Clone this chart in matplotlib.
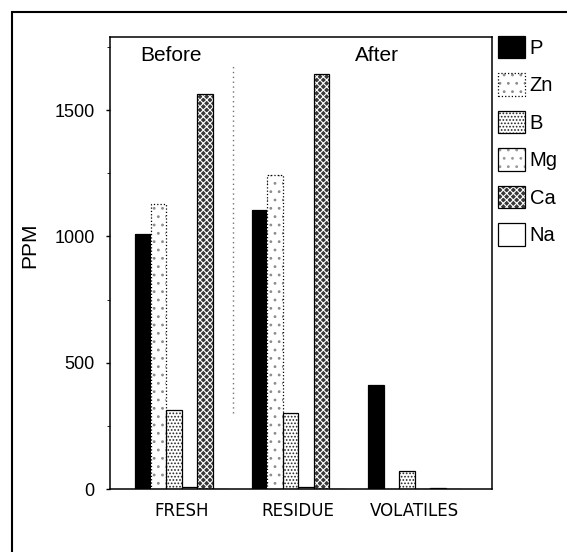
import numpy as np
import matplotlib
matplotlib.use('Agg')
import matplotlib.pyplot as plt
from matplotlib.patches import Rectangle
from matplotlib.ticker import MultipleLocator

plt.rcParams['font.family'] = ['Liberation Sans', 'DejaVu Sans']
plt.rcParams['hatch.linewidth'] = 0.8

# data
samples = ['FRESH', 'RESIDUE', 'VOLATILES']
elements = ['P', 'Zn', 'B', 'Mg', 'Ca', 'Na']
p_vals = [1010, 1105, 412]
zn_vals = [1130, 1245, 0]
b_vals = [312, 302, 70]
mg_vals = [8, 6, 0]
ca_vals = [1565, 1645, 4]
na_vals = [0, 0, 0]
series = [p_vals, zn_vals, b_vals, mg_vals, ca_vals, na_vals]

# fill, hatch, hatch colour, edge style per element
styles = [
    dict(fc='black', hatch=None, hc='black', ls='-'),
    dict(fc='white', hatch='..', hc='0.55', ls=':'),
    dict(fc='white', hatch='.....', hc='0.15', ls='-'),
    dict(fc='white', hatch='..', hc='0.6', ls='-'),
    dict(fc='0.22', hatch='xxxxx', hc='white', ls='-'),
    dict(fc='white', hatch=None, hc='white', ls='-'),
]

fig = plt.figure(figsize=(5.67, 5.52), dpi=100)
ax = fig.add_axes([110/567, 1-489/552, (492-110)/567, (489-37)/552])

x = np.arange(len(samples))
w = 0.133
handles = []
for i, (vals, st) in enumerate(zip(series, styles)):
    pos = x + (i - 2.5) * w
    b1 = ax.bar(pos, vals, w, color=st['fc'], hatch=st['hatch'],
                edgecolor=st['hc'], linewidth=0)
    b2 = ax.bar(pos, vals, w, fill=False, edgecolor='black',
                linewidth=0.9, linestyle=st['ls'])
    handles.append((b1.patches[0], b2.patches[0]))

ax.set_xlim(-0.614, 2.665)
ax.set_ylim(0, 1790)
ax.set_xticks(x)
ax.set_xticklabels(samples, family='DejaVu Sans', fontsize=12)
ax.tick_params(axis='x', length=0, pad=9)
ax.yaxis.set_major_locator(MultipleLocator(500))
ax.yaxis.set_minor_locator(MultipleLocator(250))
ax.tick_params(axis='y', labelsize=13, length=3, width=1, pad=8)
ax.tick_params(axis='y', which='minor', length=2)
for s in ax.spines.values():
    s.set_linewidth(1.1)

ax.set_ylabel('PPM', fontsize=15)
ax.yaxis.set_label_coords(-0.185, 0.54)

# before / after divider
ax.vlines(0.442, 302, 1675, colors='0.45', linestyles=(0, (1, 2.5)), linewidth=1)
ax.text(0.16, 0.96, 'Before', transform=ax.transAxes, fontsize=15,
        ha='center', va='center')
ax.text(0.70, 0.96, 'After', transform=ax.transAxes, fontsize=15,
        ha='center', va='center')

fig.legend(handles, elements, loc='upper left',
           bbox_to_anchor=(498/567, 1-36/552), frameon=False,
           fontsize=14.5, handlelength=1.33, handleheight=1.33,
           labelspacing=0.75, handletextpad=0.25, borderpad=0,
           borderaxespad=0)

# outer frame of the figure
fig.patches.append(Rectangle((12/567, -0.1), 1.2, 1-12/552+0.1,
                             transform=fig.transFigure, fill=False,
                             edgecolor='black', linewidth=1.5))

fig.savefig('out.png', dpi=100)
